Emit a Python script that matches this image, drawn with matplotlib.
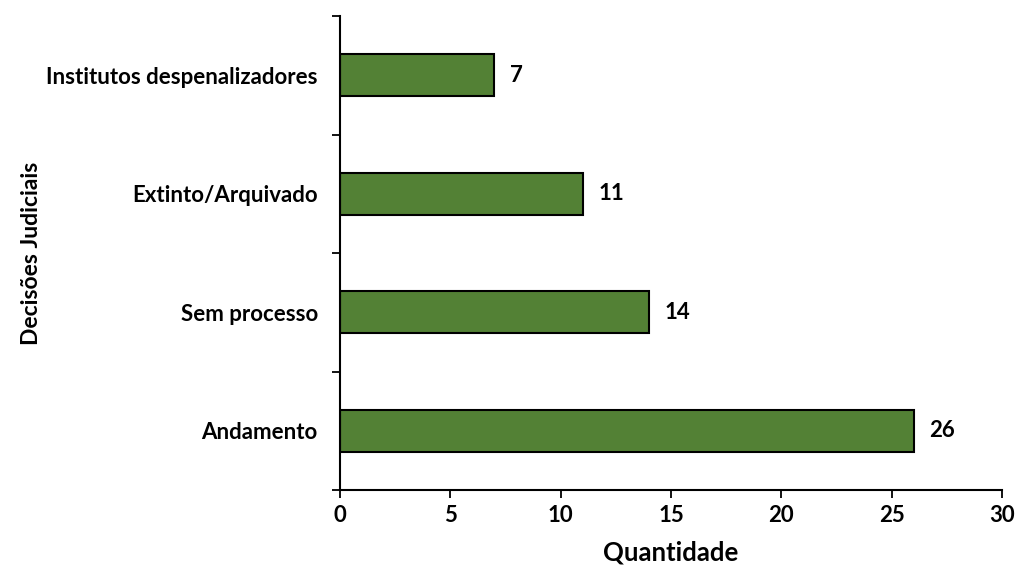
import matplotlib
matplotlib.use("Agg")
import matplotlib.pyplot as plt
from matplotlib.ticker import FixedLocator, NullFormatter

categories = ["Andamento", "Sem processo", "Extinto/Arquivado", "Institutos despenalizadores"]
values = [26, 14, 11, 7]
x_ticks = [0, 5, 10, 15, 20, 25, 30]

plt.rcParams['font.family'] = ['Lato', 'DejaVu Sans']
plt.rcParams['font.weight'] = 'bold'

fig = plt.figure(figsize=(10.16, 5.69), dpi=100)
ax = fig.add_axes([340 / 1016, 1 - 490 / 569, 662 / 1016, 474 / 569])

pos = list(range(len(categories)))
ax.barh(pos, values, height=0.355, color="#538135", edgecolor="black", linewidth=1.5)

for p, v in zip(pos, values):
    ax.text(v + 0.72, p, str(v), va="center", ha="left", fontsize=16, fontweight="bold")

ax.set_xlim(0, 30)
ax.set_ylim(-0.5, len(categories) - 0.5)
ax.set_xticks(x_ticks)
ax.set_xticklabels([str(t) for t in x_ticks], fontsize=16, fontweight="bold")

# category labels in the middle of each band, ticks on the band boundaries
ax.set_yticks(pos)
ax.set_yticklabels(categories, fontsize=16, fontweight="bold")
ax.tick_params(axis="y", which="major", length=0, pad=16)
ax.yaxis.set_minor_locator(FixedLocator([i - 0.5 for i in range(len(categories) + 1)]))
ax.yaxis.set_minor_formatter(NullFormatter())
ax.tick_params(axis="y", which="minor", length=6, width=1.3, direction="out")
ax.tick_params(axis="x", length=6, width=1.3, direction="out", pad=5)

for side in ("top", "right"):
    ax.spines[side].set_visible(False)
for side in ("left", "bottom"):
    ax.spines[side].set_linewidth(1.5)

ax.set_xlabel("Quantidade", fontsize=18.5, fontweight="bold", labelpad=10)
ax.set_ylabel("Decisões Judiciais", fontsize=16.5, fontweight="bold")
ax.yaxis.set_label_coords(-298 / 662, 0.5)

fig.savefig("out.png", dpi=100, facecolor="white")
